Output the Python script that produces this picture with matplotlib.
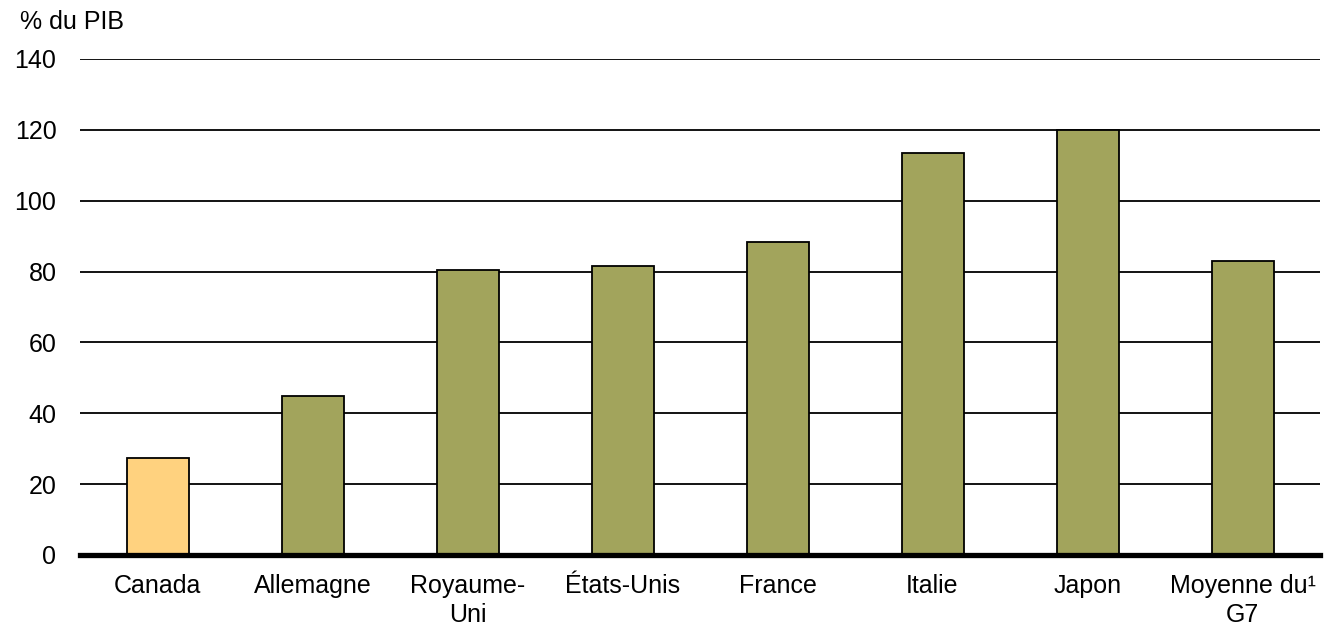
import matplotlib
matplotlib.use("Agg")
import matplotlib.pyplot as plt

categories = ["Canada", "Allemagne", "Royaume-\nUni", "États-Unis", "France", "Italie", "Japon", "Moyenne du\u00b9\nG7"]
values = [27.4, 44.9, 80.4, 81.5, 88.3, 113.6, 120.0, 83.1]
colors = ["#FFD27F"] + ["#A2A45C"] * 7
yticks = [0, 20, 40, 60, 80, 100, 120, 140]

plt.rcParams['font.family'] = ['Liberation Sans', 'DejaVu Sans']
FS = 18

fig = plt.figure(figsize=(13.35, 6.28), dpi=100)
ax = fig.add_axes([80/1335, 1-555/628, 1240/1335, (555-59)/628])

x = list(range(len(categories)))
ax.bar(x, values, width=0.4, color=colors, edgecolor="black", linewidth=1.3, zorder=3)

ax.set_ylim(0, 140)
ax.set_xlim(-0.5, len(categories)-0.5)
ax.set_yticks(yticks)
ax.set_yticklabels([str(v) for v in yticks], fontsize=FS)
ax.set_xticks(x)
ax.set_xticklabels(categories, fontsize=FS, linespacing=1.25)
ax.tick_params(axis="both", length=0)
ax.tick_params(axis="y", pad=17)
ax.tick_params(axis="x", pad=14)
ax.yaxis.grid(True, color="black", linewidth=1.3, zorder=0)
ax.set_axisbelow(True)
for s in ["top", "right", "left"]:
    ax.spines[s].set_visible(False)
ax.spines["bottom"].set_linewidth(3.8)
ax.spines["bottom"].set_zorder(4)

fig.text(20/1335, 1-22/628, "% du PIB", fontsize=FS, va="center", ha="left")

fig.savefig("out.png", dpi=100)
